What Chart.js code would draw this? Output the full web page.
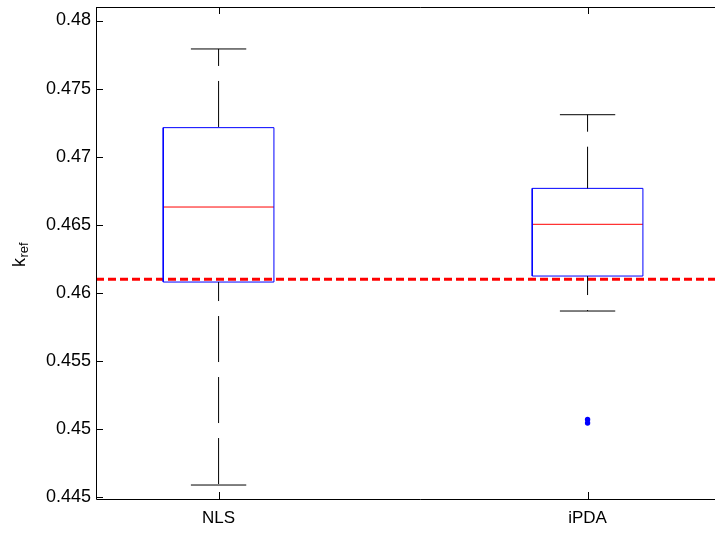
<!DOCTYPE html>
<html>
<head>
<meta charset="utf-8">
<script src="https://cdn.jsdelivr.net/npm/chart.js@4/dist/chart.umd.min.js"></script>
<style>
  html, body { margin: 0; padding: 0; background: #fff; overflow: hidden; }
  #wrap { width: 745px; height: 533px; }
</style>
</head>
<body>
<div id="wrap"><canvas id="myChart" width="745" height="533"></canvas></div>
<script>
'use strict';

// Box plot data
const categories = ['NLS', 'iPDA'];
const positions = [1, 2];
const lowerWhisker = [0.44588, 0.45866];
const q1 = [0.46079, 0.46123];
const median = [0.4663, 0.46503];
const q3 = [0.47213, 0.46767];
const upperWhisker = [0.47791, 0.47308];
const outliers = [[], [0.45069, 0.45043]];
const refValue = 0.461;
const yTicks = [0.445, 0.45, 0.455, 0.46, 0.465, 0.47, 0.475, 0.48];

const X_MIN = 0.6678, X_MAX = 2.4158;
const Y_MIN = 0.444853, Y_MAX = 0.480992;
const BOX_HALF = 0.15, CAP_HALF = 0.075;
const FONT = "'Liberation Sans', Arial, Helvetica, sans-serif";

window.onload = main;

function seg(points, color, width, dash, offset) {
    return {
        type: 'scatter',
        data: points,
        showLine: true,
        borderColor: color,
        borderWidth: width,
        borderDash: dash || [],
        borderDashOffset: offset || 0,
        pointRadius: 0,
        tension: 0,
        fill: false
    };
}

function main() {
    const datasets = [];

    positions.forEach((x, i) => {
        // whiskers (dashed black)
        datasets.push(seg([{x: x, y: upperWhisker[i]}, {x: x, y: q3[i]}], '#000', 1, [46, 15], 29));
        datasets.push(seg([{x: x, y: q1[i]}, {x: x, y: lowerWhisker[i]}], '#000', 1, [46, 15], 27));
        // caps
        datasets.push(seg([{x: x - CAP_HALF, y: upperWhisker[i]}, {x: x + CAP_HALF, y: upperWhisker[i]}], '#000', 1));
        datasets.push(seg([{x: x - CAP_HALF, y: lowerWhisker[i]}, {x: x + CAP_HALF, y: lowerWhisker[i]}], '#000', 1));
        // box
        datasets.push(seg([
            {x: x - BOX_HALF, y: q1[i]}, {x: x + BOX_HALF, y: q1[i]},
            {x: x + BOX_HALF, y: q3[i]}, {x: x - BOX_HALF, y: q3[i]},
            {x: x - BOX_HALF, y: q1[i]}
        ], 'rgb(0,0,255)', 1));
        // median
        datasets.push(seg([{x: x - BOX_HALF, y: median[i]}, {x: x + BOX_HALF, y: median[i]}], 'rgb(255,0,0)', 1));
        // outliers
        if (outliers[i].length) {
            datasets.push({
                type: 'scatter',
                data: outliers[i].map(v => ({x: x, y: v})),
                pointRadius: 2.7,
                pointBackgroundColor: 'rgb(0,0,255)',
                pointBorderColor: 'rgb(0,0,255)',
                pointBorderWidth: 0,
                showLine: false
            });
        }
    });

    // reference line
    datasets.push(seg([{x: X_MIN, y: refValue}, {x: X_MAX, y: refValue}], 'rgb(255,0,0)', 3, [8, 4], 0));

    const framePlugin = {
        id: 'frame',
        afterDraw(chart) {
            const ctx = chart.ctx;
            const a = chart.chartArea;
            const xs = chart.scales.x, ys = chart.scales.y;
            ctx.save();
            ctx.strokeStyle = '#000';
            ctx.lineWidth = 1;
            ctx.beginPath();
            ctx.moveTo(a.left + 0.5, a.top + 0.5);
            ctx.lineTo(chart.width, a.top + 0.5);
            ctx.moveTo(a.left + 0.5, a.top);
            ctx.lineTo(a.left + 0.5, a.bottom + 0.5);
            ctx.lineTo(chart.width, a.bottom + 0.5);
            yTicks.forEach(v => {
                const py = Math.round(ys.getPixelForValue(v)) + 0.5;
                ctx.moveTo(a.left, py);
                ctx.lineTo(a.left + 7, py);
            });
            positions.forEach(v => {
                const px = Math.round(xs.getPixelForValue(v)) + 0.5;
                ctx.moveTo(px, a.bottom);
                ctx.lineTo(px, a.bottom - 7);
                ctx.moveTo(px, a.top);
                ctx.lineTo(px, a.top + 7);
            });
            ctx.stroke();

            // y label k_ref
            ctx.fillStyle = '#000';
            ctx.translate(25, 267);
            ctx.rotate(-Math.PI / 2);
            ctx.textBaseline = 'alphabetic';
            ctx.textAlign = 'left';
            ctx.font = '18px ' + FONT;
            ctx.fillText('k', 0, 0);
            const kw = ctx.measureText('k').width;
            ctx.font = '13px ' + FONT;
            ctx.fillText('ref', kw + 0.5, 3);
            ctx.restore();
        }
    };

    new Chart('myChart', {
        data: { datasets: datasets },
        options: {
            responsive: false,
            animation: false,
            events: [],
            layout: { padding: { left: 0, right: 0, top: 7, bottom: 0 } },
            plugins: { legend: { display: false }, tooltip: { enabled: false } },
            scales: {
                x: {
                    type: 'linear',
                    min: X_MIN,
                    max: X_MAX,
                    grid: { display: false, drawTicks: false },
                    border: { display: false },
                    afterBuildTicks: s => { s.ticks = positions.map(v => ({value: v})); },
                    afterFit: s => { s.height = 34; },
                    ticks: {
                        autoSkip: false,
                        maxRotation: 0,
                        padding: 9,
                        color: '#000',
                        font: { family: FONT, size: 17 },
                        callback: v => categories[positions.indexOf(v)]
                    }
                },
                y: {
                    type: 'linear',
                    min: Y_MIN,
                    max: Y_MAX,
                    grid: { display: false, drawTicks: false },
                    border: { display: false },
                    afterBuildTicks: s => { s.ticks = yTicks.map(v => ({value: v})); },
                    afterFit: s => { s.width = 96; },
                    ticks: {
                        autoSkip: false,
                        padding: 5,
                        color: '#000',
                        font: { family: FONT, size: 18, lineHeight: 0.2 },
                        callback: v => String(+v.toFixed(3))
                    }
                }
            }
        },
        plugins: [framePlugin]
    });
}
</script>
</body>
</html>
